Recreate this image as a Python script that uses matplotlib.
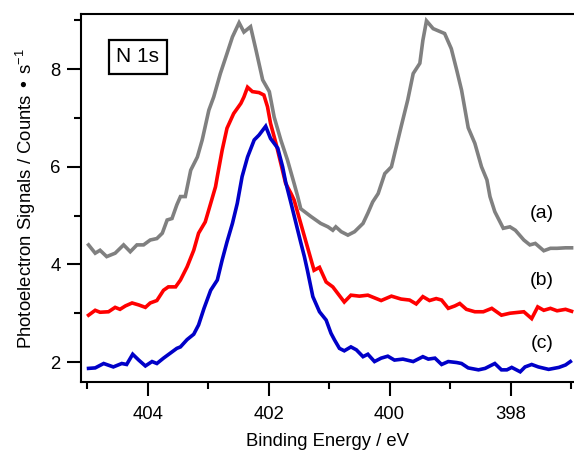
import matplotlib
matplotlib.use("Agg")
import matplotlib.pyplot as plt
from matplotlib.ticker import MultipleLocator

plt.rcParams['font.family'] = ['Liberation Sans', 'DejaVu Sans']

# Series (a) gray
energy_a = [404.98, 404.87, 404.79, 404.68, 404.54, 404.40, 404.29, 404.18, 404.07, 403.96,
            403.85, 403.76, 403.68, 403.60, 403.52, 403.46, 403.38, 403.29, 403.18, 403.10,
            402.99, 402.91, 402.80, 402.69, 402.60, 402.49, 402.41, 402.30, 402.21, 402.10,
            401.99, 401.91, 401.80, 401.69, 401.58, 401.52, 401.47, 401.30, 401.14, 401.02,
            400.94, 400.89, 400.80, 400.69, 400.58, 400.44, 400.36, 400.28, 400.19, 400.08,
            399.97, 399.89, 399.81, 399.70, 399.61, 399.50, 399.45, 399.39, 399.28, 399.09,
            398.98, 398.89, 398.81, 398.70, 398.59, 398.48, 398.39, 398.34, 398.26, 398.12,
            398.01, 397.92, 397.78, 397.68, 397.59, 397.45, 397.34, 397.23, 397.09, 396.99]
signal_a = [4.40, 4.23, 4.29, 4.16, 4.23, 4.40, 4.26, 4.40, 4.40, 4.50,
            4.53, 4.64, 4.91, 4.94, 5.22, 5.39, 5.39, 5.93, 6.20, 6.55,
            7.16, 7.43, 7.91, 8.32, 8.66, 8.95, 8.76, 8.87, 8.39, 7.78,
            7.54, 7.02, 6.55, 6.14, 5.66, 5.39, 5.14, 4.98, 4.84, 4.77,
            4.70, 4.77, 4.67, 4.60, 4.67, 4.84, 5.05, 5.28, 5.45, 5.86,
            6.00, 6.41, 6.82, 7.37, 7.91, 8.12, 8.59, 8.99, 8.83, 8.73,
            8.42, 7.98, 7.57, 6.80, 6.48, 6.00, 5.73, 5.39, 5.08, 4.74,
            4.77, 4.70, 4.50, 4.40, 4.43, 4.28, 4.33, 4.33, 4.34, 4.34]

# Series (b) red
energy_b = [404.98, 404.87, 404.79, 404.65, 404.54, 404.46, 404.37, 404.26, 404.15, 404.04,
            403.96, 403.85, 403.74, 403.66, 403.54, 403.46, 403.35, 403.24, 403.16, 403.05,
            402.96, 402.88, 402.85, 402.77, 402.69, 402.58, 402.46, 402.41, 402.35, 402.27,
            402.16, 402.08, 402.02, 401.97, 401.88, 401.80, 401.72, 401.63, 401.58, 401.47,
            401.36, 401.25, 401.16, 401.05, 400.94, 400.75, 400.64, 400.50, 400.36, 400.14,
            399.97, 399.81, 399.67, 399.56, 399.45, 399.34, 399.23, 399.14, 399.03, 398.92,
            398.84, 398.73, 398.59, 398.45, 398.31, 398.15, 398.01, 397.78, 397.65, 397.55,
            397.45, 397.34, 397.23, 397.09, 396.99]
signal_b = [2.96, 3.06, 3.02, 3.03, 3.12, 3.08, 3.15, 3.21, 3.17, 3.12,
            3.21, 3.26, 3.47, 3.54, 3.54, 3.68, 3.95, 4.29, 4.64, 4.87,
            5.25, 5.59, 5.80, 6.34, 6.79, 7.09, 7.30, 7.43, 7.63, 7.54,
            7.52, 7.47, 7.23, 6.89, 6.48, 6.07, 5.66, 5.45, 5.32, 4.84,
            4.36, 3.88, 3.94, 3.64, 3.54, 3.23, 3.37, 3.35, 3.37, 3.26,
            3.35, 3.29, 3.27, 3.19, 3.34, 3.26, 3.30, 3.27, 3.10, 3.15,
            3.20, 3.08, 3.03, 3.03, 3.10, 2.96, 3.00, 3.03, 2.89, 3.13,
            3.06, 3.10, 3.05, 3.08, 3.04]

# Series (c) blue
energy_c = [404.98, 404.87, 404.73, 404.57, 404.43, 404.35, 404.25, 404.15, 404.04, 403.93,
            403.85, 403.74, 403.63, 403.52, 403.46, 403.35, 403.24, 403.16, 403.07, 402.96,
            402.85, 402.77, 402.69, 402.60, 402.52, 402.44, 402.35, 402.24, 402.16, 402.05,
            401.97, 401.85, 401.77, 401.72, 401.63, 401.52, 401.47, 401.41, 401.36, 401.27,
            401.16, 401.05, 400.97, 400.91, 400.83, 400.75, 400.64, 400.55, 400.44, 400.36,
            400.25, 400.14, 400.03, 399.92, 399.78, 399.61, 399.45, 399.36, 399.25, 399.14,
            399.03, 398.89, 398.81, 398.70, 398.53, 398.42, 398.26, 398.15, 398.06, 397.98,
            397.84, 397.76, 397.65, 397.54, 397.37, 397.20, 397.09, 397.01]
signal_c = [1.87, 1.88, 1.97, 1.90, 1.97, 1.95, 2.16, 2.04, 1.92, 2.01,
            1.97, 2.08, 2.18, 2.28, 2.31, 2.46, 2.57, 2.76, 3.10, 3.47,
            3.68, 4.09, 4.46, 4.84, 5.25, 5.80, 6.20, 6.55, 6.65, 6.83,
            6.58, 6.38, 6.00, 5.69, 5.25, 4.70, 4.45, 4.16, 3.88, 3.34,
            3.03, 2.86, 2.59, 2.45, 2.28, 2.23, 2.31, 2.25, 2.11, 2.16,
            2.01, 2.08, 2.12, 2.04, 2.06, 2.01, 2.11, 2.06, 2.08, 1.95,
            2.01, 1.99, 1.97, 1.88, 1.84, 1.87, 1.97, 1.84, 1.84, 1.89,
            1.80, 1.90, 1.95, 1.90, 1.85, 1.89, 1.94, 2.01]

series_labels = ['(a)', '(b)', '(c)']
label_pos_x = 397.48
label_pos_y = [5.05, 3.68, 2.39]
colors = ['#808080', '#ff0000', '#0000c8']

fig = plt.figure(figsize=(5.74, 4.51), dpi=100)
ax = fig.add_axes([81.3/574, 68.7/451, 1 - 81.3/574, 368.3/451])

for ex, sy, c in zip([energy_a, energy_b, energy_c], [signal_a, signal_b, signal_c], colors):
    ax.plot(ex, sy, color=c, lw=2.6, solid_joinstyle='miter')

for lab, ly in zip(series_labels, label_pos_y):
    ax.text(label_pos_x, ly, lab, fontsize=14, ha='center', va='center')

ax.text(0.1147, 0.884, 'N 1s', transform=ax.transAxes, fontsize=15, ha='center', va='center',
        bbox=dict(boxstyle='square,pad=0.36', fc='white', ec='black', lw=1.6))

ax.set_xlim(405.1, 396.95)
ax.set_ylim(1.585, 9.13)
ax.xaxis.set_major_locator(MultipleLocator(2))
ax.xaxis.set_minor_locator(MultipleLocator(1))
ax.yaxis.set_major_locator(MultipleLocator(2))
ax.yaxis.set_minor_locator(MultipleLocator(1))

ax.spines['right'].set_visible(False)
for s in ['left', 'bottom', 'top']:
    ax.spines[s].set_linewidth(1.5)
ax.tick_params(which='major', length=10, width=1.5, labelsize=13.3, direction='out')
ax.tick_params(which='minor', length=5, width=1.5, direction='out')
ax.tick_params(axis='x', which='major', pad=7)
ax.tick_params(axis='y', which='major', pad=5)
ax.tick_params(top=False, right=False, which='both')

ax.set_xlabel('Binding Energy / eV', fontsize=13.3, labelpad=7)
ax.set_ylabel('Photoelectron Signals / Counts \u2022 s$^{\\mathregular{-1}}$', fontsize=13.3, labelpad=9)

fig.savefig('out.png', dpi=100)
